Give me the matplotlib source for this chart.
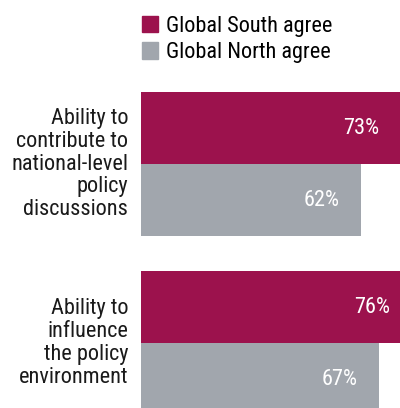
import matplotlib.pyplot as plt
import matplotlib.patches as mpatches
import numpy as np

categories = ["Ability to\ncontribute to\nnational-level\npolicy\ndiscussions",
              "Ability to\ninfluence\nthe policy\nenvironment"]
south = [73, 76]
north = [62, 67]
series = ["Global South agree", "Global North agree"]
colors = ["#9C124D", "#A1A6AD"]

plt.rcParams['font.family'] = ['Roboto Condensed', 'DejaVu Sans']
plt.rcParams['font.weight'] = 'normal'

fig = plt.figure(figsize=(4, 4.08), dpi=100)
ax = fig.add_axes([141/400, 0, 1 - 141/400, 1])

pos = np.arange(len(categories)) * 2.49
ax.barh(pos, south, height=1, color=colors[0], align='center')
ax.barh(pos + 1, north, height=1, color=colors[1], align='center')

ax.set_xlim(0, 72.9)
ax.set_ylim(3.889, -1.778)

for i in range(len(categories)):
    ax.text(south[i] - 6, pos[i], f"{south[i]}%", ha='right', va='center',
            color='white', fontsize=16)
    ax.text(north[i] - 6, pos[i] + 1, f"{north[i]}%", ha='right', va='center',
            color='white', fontsize=16)
    ax.text(-3.6, pos[i] + 0.5, categories[i], ha='right', va='center',
            fontsize=16, color='#1a1a1a', linespacing=1.12)

ax.axis('off')

handles = [mpatches.Patch(color=c, label=s) for c, s in zip(colors, series)]
fig.legend(handles=handles, loc='upper left', bbox_to_anchor=(0.315, 1.0),
           frameon=False, fontsize=16, handlelength=0.75, handleheight=0.75,
           handletextpad=0.35, labelspacing=0.25, borderaxespad=0.3)

fig.savefig("out.png", dpi=100)
